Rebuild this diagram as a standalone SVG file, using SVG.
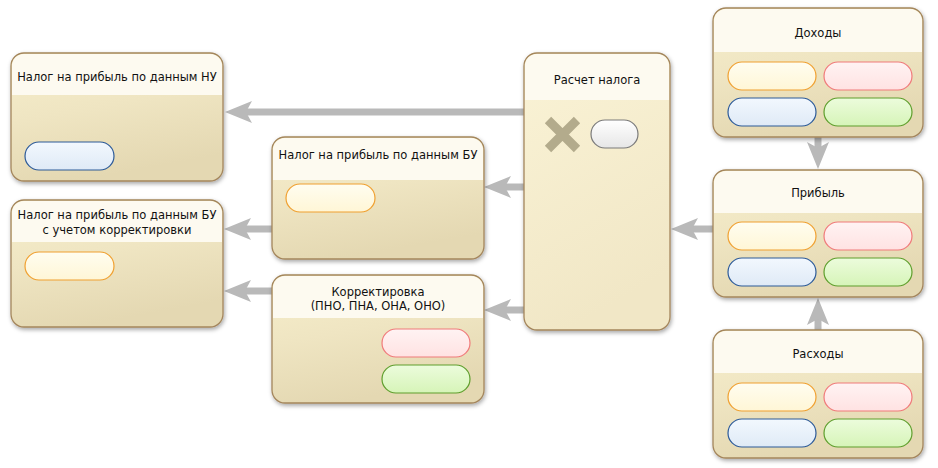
<svg xmlns="http://www.w3.org/2000/svg" width="938" height="468" viewBox="0 0 938 468">
<defs>
<filter id="sh" x="-10%" y="-10%" width="125%" height="130%">
<feDropShadow dx="1" dy="2" stdDeviation="2.2" flood-color="#000" flood-opacity="0.35"/>
</filter>
<linearGradient id="body" x1="0" y1="0" x2="0.3" y2="1">
<stop offset="0" stop-color="#f7efcc"/>
<stop offset="0.5" stop-color="#efe5c2"/>
<stop offset="1" stop-color="#e4d8b2"/>
</linearGradient>
<linearGradient id="bodyL" x1="0" y1="0" x2="0.3" y2="1">
<stop offset="0" stop-color="#faf3d6"/>
<stop offset="1" stop-color="#f1e7c6"/>
</linearGradient>
<linearGradient id="gY" x1="0" y1="0" x2="0" y2="1"><stop offset="0" stop-color="#fffdf0"/><stop offset="1" stop-color="#fff6d6"/></linearGradient>
<linearGradient id="gP" x1="0" y1="0" x2="0" y2="1"><stop offset="0" stop-color="#fff3f3"/><stop offset="1" stop-color="#ffe2e2"/></linearGradient>
<linearGradient id="gB" x1="0" y1="0" x2="0" y2="1"><stop offset="0" stop-color="#f2f8fe"/><stop offset="1" stop-color="#dfeaf6"/></linearGradient>
<linearGradient id="gG" x1="0" y1="0" x2="0" y2="1"><stop offset="0" stop-color="#ecfcdc"/><stop offset="1" stop-color="#d6f4b8"/></linearGradient>
<linearGradient id="gW" x1="0" y1="0" x2="0" y2="1"><stop offset="0" stop-color="#ffffff"/><stop offset="1" stop-color="#e6e6e6"/></linearGradient>
<marker id="ah" markerUnits="userSpaceOnUse" viewBox="0 -12 28 24" markerWidth="28" markerHeight="24" refX="6" refY="0" orient="auto">
<path d="M0,-11 L27,0 L0,11 L6,0 Z" fill="#b9b9b9"/>
</marker>
</defs>
<style>
.box{fill:url(#body);stroke:#a4865c;stroke-width:1.3;filter:url(#sh)}
.hdr{fill:#fdfaf0}
.t{font-family:"DejaVu Sans",Verdana,sans-serif;font-size:11.5px;fill:#111;text-anchor:middle}
.c{fill:none;stroke:#b9b9b9;stroke-width:7;marker-end:url(#ah)}
.py{fill:url(#gY);stroke:#f0a030;stroke-width:1.2}
.pp{fill:url(#gP);stroke:#f07a7a;stroke-width:1.2}
.pb{fill:url(#gB);stroke:#2c5a98;stroke-width:1.2}
.pg{fill:url(#gG);stroke:#5e9e2c;stroke-width:1.2}
.pw{fill:url(#gW);stroke:#7a7a7a;stroke-width:1.2}
</style>
<rect width="938" height="468" fill="#ffffff"/>

<g id="connectors">
<path class="c" d="M524,112 L246,112"/>
<path class="c" d="M524,187 L505,187"/>
<path class="c" d="M524,310 L505,310"/>
<path class="c" d="M272,229 L245,229"/>
<path class="c" d="M272,291 L245,291"/>
<path class="c" d="M713,229 L692,229"/>
<path class="c" d="M818,137 L818,148"/>
<path class="c" d="M818,330 L818,319"/>
</g>

<g id="node-nu">
<rect class="box" x="11" y="53" width="212" height="128" rx="13"/>
<path class="hdr" d="M12,95 L12,66 A12,12 0 0 1 24,54 L210,54 A12,12 0 0 1 222,66 L222,95 Z"/>
<text class="t" x="117" y="81">Налог на прибыль по данным НУ</text>
<rect class="pb" x="25" y="142" width="89" height="28" rx="14"/>
</g>

<g id="node-bu">
<rect class="box" x="272" y="137" width="212" height="122" rx="13"/>
<path class="hdr" d="M273,180 L273,150 A12,12 0 0 1 285,138 L471,138 A12,12 0 0 1 483,150 L483,180 Z"/>
<text class="t" x="378" y="159">Налог на прибыль по данным БУ</text>
<rect class="py" x="286" y="184" width="89" height="28" rx="14"/>
</g>

<g id="node-bu-korr">
<rect class="box" x="11" y="200" width="212" height="127" rx="13"/>
<path class="hdr" d="M12,242 L12,213 A12,12 0 0 1 24,201 L210,201 A12,12 0 0 1 222,213 L222,242 Z"/>
<text class="t" x="117" y="219">Налог на прибыль по данным БУ</text>
<text class="t" x="117" y="234">с учетом корректировки</text>
<rect class="py" x="25" y="252" width="89" height="28" rx="14"/>
</g>

<g id="node-korr">
<rect class="box" x="272" y="275" width="212" height="128" rx="13"/>
<path class="hdr" d="M273,318 L273,288 A12,12 0 0 1 285,276 L471,276 A12,12 0 0 1 483,288 L483,318 Z"/>
<text class="t" x="378" y="296">Корректировка</text>
<text class="t" x="378" y="310">(ПНО, ПНА, ОНА, ОНО)</text>
<rect class="pp" x="382" y="329" width="88" height="28" rx="14"/>
<rect class="pg" x="382" y="365" width="88" height="28" rx="14"/>
</g>

<g id="node-raschet">
<rect class="box" x="524" y="53" width="146" height="277" rx="13" style="fill:url(#bodyL)"/>
<path class="hdr" d="M525,100 L525,66 A12,12 0 0 1 537,54 L657,54 A12,12 0 0 1 669,66 L669,100 Z"/>
<text class="t" x="597" y="84">Расчет налога</text>
<path d="M548,120 L577,149 M577,120 L548,149" stroke="#b3ab8c" stroke-width="9" fill="none"/>
<rect class="pw" x="591" y="120" width="47" height="28" rx="14"/>
</g>

<g id="node-dohody">
<rect class="box" x="713" y="8" width="210" height="129" rx="13"/>
<path class="hdr" d="M714,52 L714,21 A12,12 0 0 1 726,9 L910,9 A12,12 0 0 1 922,21 L922,52 Z"/>
<text class="t" x="818" y="37">Доходы</text>
<rect class="py" x="728" y="62" width="88" height="28" rx="14"/>
<rect class="pp" x="824" y="62" width="88" height="28" rx="14"/>
<rect class="pb" x="728" y="98" width="88" height="28" rx="14"/>
<rect class="pg" x="824" y="98" width="88" height="28" rx="14"/>
</g>

<g id="node-pribyl">
<rect class="box" x="713" y="170" width="210" height="127" rx="13"/>
<path class="hdr" d="M714,213 L714,183 A12,12 0 0 1 726,171 L910,171 A12,12 0 0 1 922,183 L922,213 Z"/>
<text class="t" x="818" y="197">Прибыль</text>
<rect class="py" x="728" y="222" width="88" height="28" rx="14"/>
<rect class="pp" x="824" y="222" width="88" height="28" rx="14"/>
<rect class="pb" x="728" y="258" width="88" height="28" rx="14"/>
<rect class="pg" x="824" y="258" width="88" height="28" rx="14"/>
</g>

<g id="node-raskhody">
<rect class="box" x="713" y="330" width="210" height="128" rx="13"/>
<path class="hdr" d="M714,373 L714,343 A12,12 0 0 1 726,331 L910,331 A12,12 0 0 1 922,343 L922,373 Z"/>
<text class="t" x="818" y="358">Расходы</text>
<rect class="py" x="728" y="383" width="88" height="28" rx="14"/>
<rect class="pp" x="824" y="383" width="88" height="28" rx="14"/>
<rect class="pb" x="728" y="419" width="88" height="28" rx="14"/>
<rect class="pg" x="824" y="419" width="88" height="28" rx="14"/>
</g>
</svg>
